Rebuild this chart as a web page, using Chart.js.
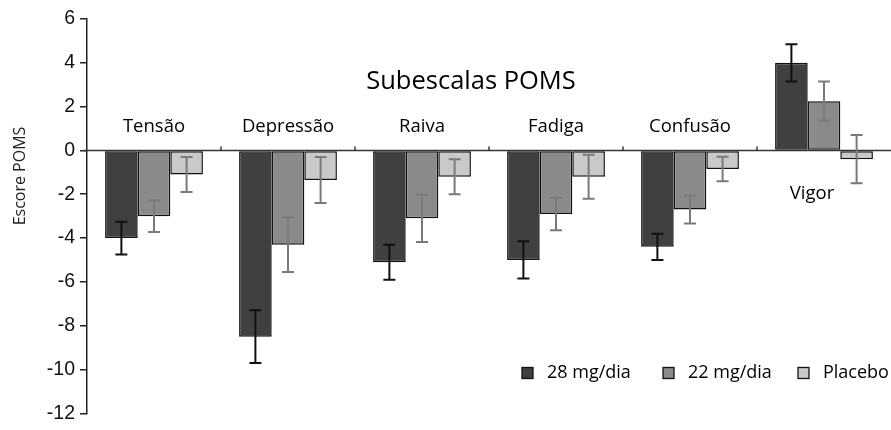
<!DOCTYPE html>
<html>
<head>
<meta charset="utf-8">
<script src="https://cdn.jsdelivr.net/npm/chart.js@4.4.1/dist/chart.umd.min.js"></script>
<style>
  html, body { margin: 0; padding: 0; background: #fff; }
  #wrap { width: 891px; height: 430px; }
</style>
</head>
<body>
<div id="wrap"><canvas id="c" width="891" height="430"></canvas></div>
<script>
// POMS subscales — change from baseline, three groups with error bars
const categories = ['Tensão', 'Depressão', 'Raiva', 'Fadiga', 'Confusão', 'Vigor'];
const seriesLabels = ['28 mg/dia', '22 mg/dia', 'Placebo'];
const dose28  = [-4.0, -8.5, -5.1, -5.0, -4.4, 4.0];
const err28   = [0.75, 1.2, 0.8, 0.85, 0.6, 0.85];
const dose22  = [-3.0, -4.3, -3.1, -2.9, -2.7, 2.25];
const err22   = [0.72, 1.25, 1.08, 0.74, 0.63, 0.9];
const placebo = [-1.1, -1.35, -1.2, -1.2, -0.85, -0.4];
const errPl   = [0.8, 1.05, 0.8, 1.0, 0.56, 1.1];
const yTicks  = [6, 4, 2, 0, -2, -4, -6, -8, -10, -12];

const FILLS = ['#404040', '#8a8a8a', '#c9c9c9'];
const ERR_COLORS = ['#111', '#7a7a7a', '#7a7a7a'];
const ERRS = [err28, err22, errPl];
const TXT_FONT = '"Open Sans", "Noto Sans", sans-serif';

// error bars, zero line, category labels, title, legend
const decorations = {
  id: 'decorations',
  afterDatasetsDraw(chart) {
    const { ctx, chartArea: ca, scales: { x, y } } = chart;
    const y0 = y.getPixelForValue(0);

    // zero line with small upward ticks between groups
    ctx.save();
    ctx.strokeStyle = '#333';
    ctx.lineWidth = 1.5;
    ctx.beginPath();
    ctx.moveTo(ca.left - 3, y0); ctx.lineTo(ca.right, y0);
    for (let i = 1; i < categories.length; i++) {
      const bx = (x.getPixelForValue(i - 1) + x.getPixelForValue(i)) / 2;
      ctx.moveTo(bx, y0); ctx.lineTo(bx, y0 - 4);
    }
    ctx.stroke();

    // error bars
    chart.data.datasets.forEach((ds, di) => {
      const meta = chart.getDatasetMeta(di);
      ctx.strokeStyle = ERR_COLORS[di];
      ctx.lineWidth = 2;
      meta.data.forEach((bar, i) => {
        const v = ds.data[i], e = ERRS[di][i];
        const top = y.getPixelForValue(v + e), bot = y.getPixelForValue(v - e);
        const cx = bar.x, w = 6;
        ctx.beginPath();
        ctx.moveTo(cx, top); ctx.lineTo(cx, bot);
        ctx.moveTo(cx - w, top); ctx.lineTo(cx + w, top);
        ctx.moveTo(cx - w, bot); ctx.lineTo(cx + w, bot);
        ctx.stroke();
      });
    });

    // category names inside the plot
    ctx.fillStyle = '#000';
    ctx.font = '18.5px ' + TXT_FONT;
    ctx.textAlign = 'center';
    ctx.textBaseline = 'middle';
    categories.forEach((c, i) => {
      const cx = x.getPixelForValue(i);
      const positive = dose28[i] > 0;
      ctx.fillText(c, cx - (positive ? 12 : 0), positive ? y0 + 43 : y0 - 24);
    });

    // title
    ctx.font = '25.5px ' + TXT_FONT;
    ctx.fillText('Subescalas POMS', 471, 82);

    // y axis title
    ctx.save();
    ctx.translate(20, 176);
    ctx.rotate(-Math.PI / 2);
    ctx.font = '16px ' + TXT_FONT;
    ctx.fillStyle = '#222';
    ctx.fillText('Escore POMS', 0, 0);
    ctx.restore();

    // legend
    const legendX = [522, 663, 798];
    const ly = 373;
    ctx.font = '18px ' + TXT_FONT;
    ctx.textAlign = 'left';
    seriesLabels.forEach((lab, i) => {
      ctx.fillStyle = FILLS[i];
      ctx.fillRect(legendX[i], ly - 5.5, 11, 11);
      ctx.strokeStyle = '#111';
      ctx.lineWidth = 1.3;
      ctx.strokeRect(legendX[i], ly - 5.5, 11, 11);
      ctx.fillStyle = '#000';
      ctx.fillText(lab, legendX[i] + 25, ly);
    });
    ctx.restore();
  }
};

new Chart(document.getElementById('c'), {
  type: 'bar',
  data: {
    labels: categories,
    datasets: [dose28, dose22, placebo].map((d, i) => ({
      label: seriesLabels[i],
      data: d,
      backgroundColor: FILLS[i],
      borderColor: '#111',
      borderWidth: 1.5,
      borderSkipped: false,
      categoryPercentage: 0.73,
      barPercentage: 1.0,
    })),
  },
  options: {
    responsive: false,
    animation: false,
    devicePixelRatio: 1,
    layout: { padding: { top: 19, bottom: 11, left: 0, right: 0 } },
    plugins: { legend: { display: false }, tooltip: { enabled: false } },
    scales: {
      x: { display: false },
      y: {
        min: -12, max: 6,
        afterFit(scale) { scale.width = 87; },
        afterBuildTicks(scale) { scale.ticks = yTicks.map(v => ({ value: v })); },
        border: { color: '#222', width: 1.5 },
        grid: { drawOnChartArea: false, drawTicks: true, tickLength: 7, color: '#222', lineWidth: 1.5 },
        ticks: {
          color: '#111', padding: 5,
          font: { family: '"Liberation Sans", Arial, sans-serif', size: 19.5 },
        },
      },
    },
  },
  plugins: [decorations],
});
</script>
</body>
</html>
